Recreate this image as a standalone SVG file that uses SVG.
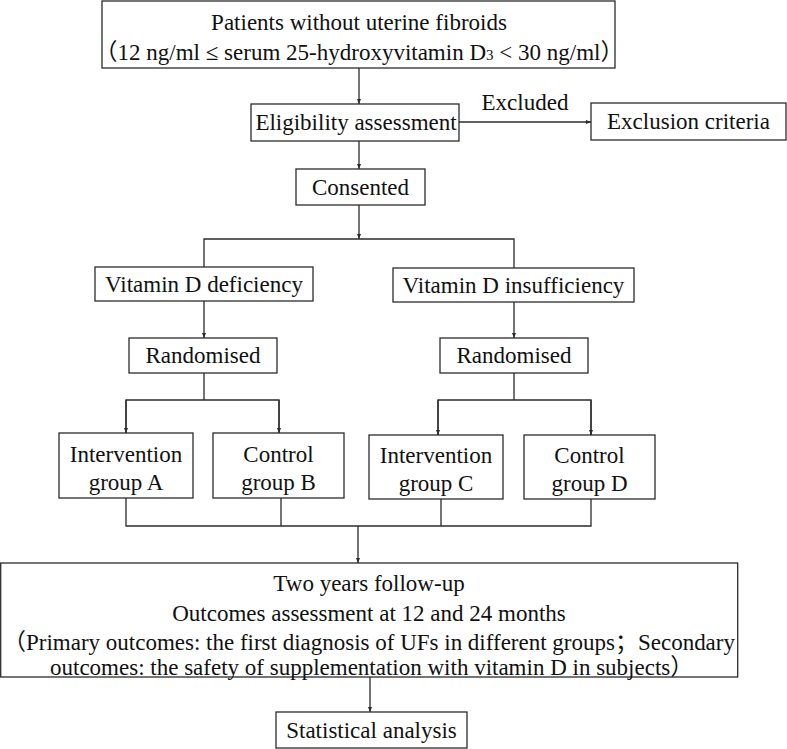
<svg xmlns="http://www.w3.org/2000/svg" width="787" height="749" viewBox="0 0 787 749">
<style>
rect.box{fill:#fff;stroke:#2b2b2b;stroke-width:1.3}
text{font-family:"Liberation Serif","Noto Sans CJK SC",serif;font-size:23px;fill:#111}
.c{text-anchor:middle}
#connectors path{fill:none;stroke:#2b2b2b;stroke-width:1.3}
</style>
<defs>
<marker id="ah" viewBox="0 0 10 10" refX="10" refY="5" markerWidth="5" markerHeight="5" markerUnits="userSpaceOnUse" orient="auto">
<path d="M0,1 L10,5 L0,9 z" fill="#2b2b2b"/>
</marker>
</defs>
<rect width="787" height="749" fill="#fff"/>
<g id="connectors">
<path d="M359,68 V104" marker-end="url(#ah)"/>
<path d="M459,122 H591" marker-end="url(#ah)"/>
<path d="M359,141 V169" marker-end="url(#ah)"/>
<path d="M359,205 V239" marker-end="url(#ah)"/>
<path d="M204,267 V239 H514 V268"/>
<path d="M204,301 V338" marker-end="url(#ah)"/>
<path d="M514,302 V338" marker-end="url(#ah)"/>
<path d="M204,373 V400"/>
<path d="M126,433 V400 H279 V433"/>
<path d="M126,400 V433" marker-end="url(#ah)"/>
<path d="M279,400 V433" marker-end="url(#ah)"/>
<path d="M514,373 V400"/>
<path d="M438,435 V400 H591 V435"/>
<path d="M438,400 V435" marker-end="url(#ah)"/>
<path d="M591,400 V435" marker-end="url(#ah)"/>
<path d="M126,498 V526 H591 V499"/>
<path d="M281,498 V526"/>
<path d="M441,499 V526"/>
<path d="M358,526 V563" marker-end="url(#ah)"/>
<path d="M370,677 V712" marker-end="url(#ah)"/>
</g>
<text class="c" x="525" y="110">Excluded</text>
<g id="patients">
<rect class="box" x="102" y="1" width="513" height="67"/>
<text class="c" x="359" y="30" font-size="24">Patients without uterine fibroids</text>
<text class="c" x="359" y="60">（12 ng/ml ≤ serum 25-hydroxyvitamin D<tspan font-size="15">3</tspan> &lt; 30 ng/ml）</text>
</g>
<g id="eligibility">
<rect class="box" x="251" y="104" width="208" height="37"/>
<text class="c" x="356" y="130">Eligibility assessment</text>
</g>
<g id="exclusion">
<rect class="box" x="591" y="103" width="195" height="37"/>
<text class="c" x="688.5" y="129">Exclusion criteria</text>
</g>
<g id="consented">
<rect class="box" x="296" y="169" width="129" height="36"/>
<text class="c" x="360.5" y="195">Consented</text>
</g>
<g id="deficiency">
<rect class="box" x="95" y="267" width="218" height="34"/>
<text class="c" x="204" y="292">Vitamin D deficiency</text>
</g>
<g id="insufficiency">
<rect class="box" x="393" y="268" width="241" height="34"/>
<text class="c" x="513.5" y="293">Vitamin D insufficiency</text>
</g>
<g id="randomised-left">
<rect class="box" x="129" y="338" width="148" height="35"/>
<text class="c" x="203" y="363">Randomised</text>
</g>
<g id="randomised-right">
<rect class="box" x="440" y="338" width="148" height="35"/>
<text class="c" x="514" y="363">Randomised</text>
</g>
<g id="group-a">
<rect class="box" x="59" y="433" width="134" height="65"/>
<text class="c" x="126" y="462">Intervention</text>
<text class="c" x="126" y="490">group A</text>
</g>
<g id="group-b">
<rect class="box" x="213" y="433" width="131" height="65"/>
<text class="c" x="278.5" y="462">Control</text>
<text class="c" x="278.5" y="490">group B</text>
</g>
<g id="group-c">
<rect class="box" x="369" y="435" width="134" height="64"/>
<text class="c" x="436" y="463">Intervention</text>
<text class="c" x="436" y="491">group C</text>
</g>
<g id="group-d">
<rect class="box" x="524" y="435" width="131" height="64"/>
<text class="c" x="589.5" y="463">Control</text>
<text class="c" x="589.5" y="491">group D</text>
</g>
<g id="followup">
<rect class="box" x="0.7" y="563" width="737" height="114"/>
<text class="c" x="369" y="591">Two years follow-up</text>
<text class="c" x="369" y="621">Outcomes assessment at 12 and 24 months</text>
<text x="3" y="650" textLength="732" lengthAdjust="spacing">（Primary outcomes: the first diagnosis of UFs in different groups；Secondary</text>
<text x="50" y="675">outcomes: the safety of supplementation with vitamin D in subjects）</text>
</g>
<g id="statistical">
<rect class="box" x="276" y="712" width="191" height="36"/>
<text class="c" x="371.5" y="738">Statistical analysis</text>
</g>
</svg>
